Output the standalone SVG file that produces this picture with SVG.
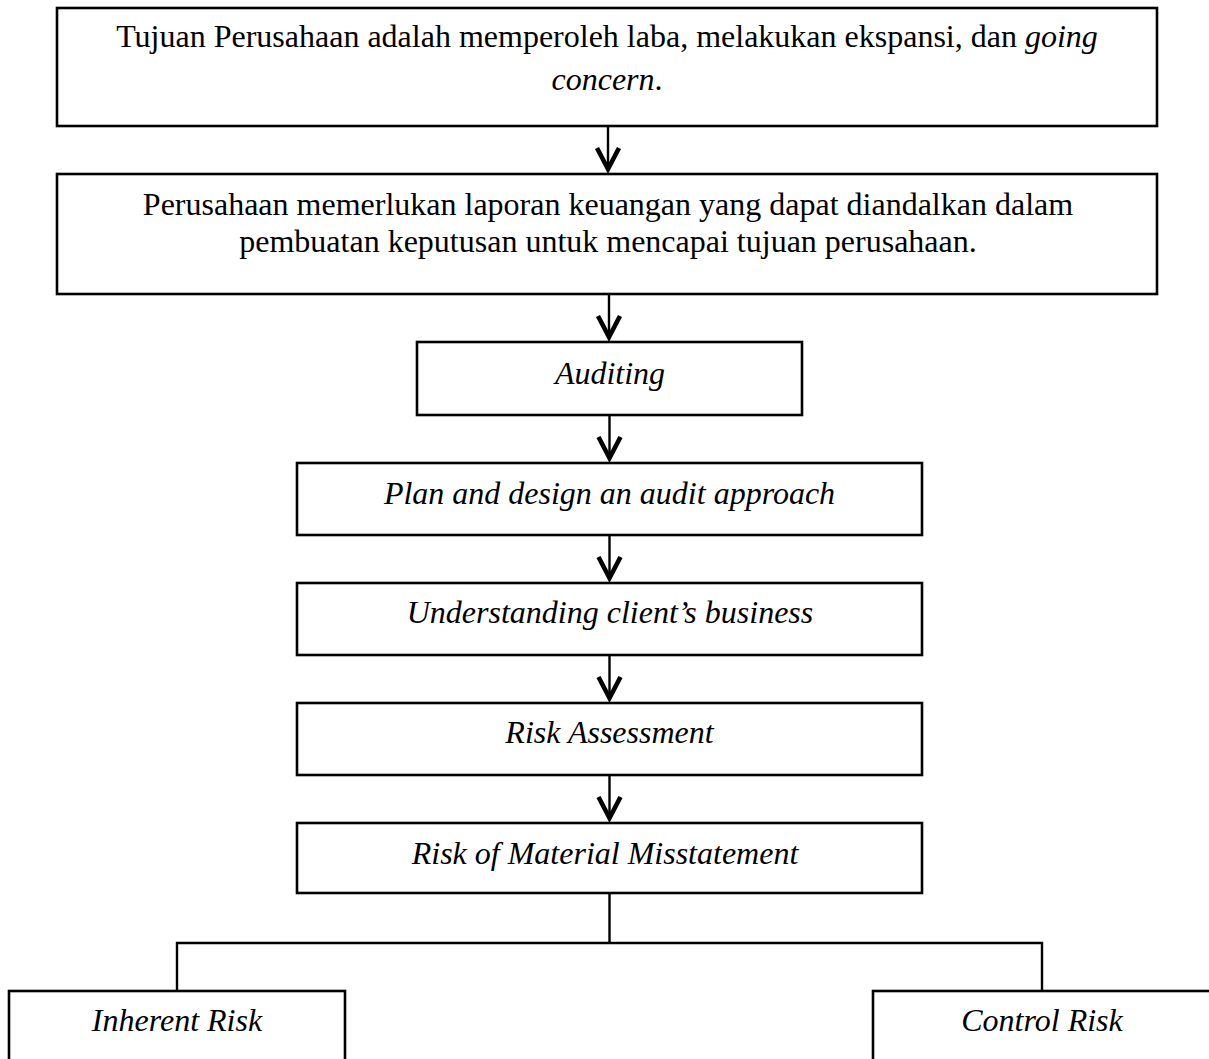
<svg xmlns="http://www.w3.org/2000/svg" width="1209" height="1059" viewBox="0 0 1209 1059">
<style>
.box{fill:#fff;stroke:#000;stroke-width:2.6}
.t{font-family:"Liberation Serif","Times New Roman",serif;font-size:32px;fill:#000;text-anchor:middle}
.i{font-style:italic}
.ln{fill:none;stroke:#000;stroke-width:2.4}
</style>
<defs>
<marker id="v" markerUnits="userSpaceOnUse" markerWidth="30" markerHeight="30" refX="26" refY="15" orient="auto" viewBox="0 0 30 30">
<path d="M5,4 L26,15 L5,26" fill="none" stroke="#000" stroke-width="4.6"/>
</marker>
</defs>
<rect width="1209" height="1059" fill="#fff"/>
<g id="connectors">
<line class="ln" x1="608" y1="126" x2="608" y2="169" marker-end="url(#v)"/>
<line class="ln" x1="609" y1="294" x2="609" y2="337" marker-end="url(#v)"/>
<line class="ln" x1="609.5" y1="415" x2="609.5" y2="458" marker-end="url(#v)"/>
<line class="ln" x1="609.5" y1="535" x2="609.5" y2="578" marker-end="url(#v)"/>
<line class="ln" x1="609.5" y1="655" x2="609.5" y2="698" marker-end="url(#v)"/>
<line class="ln" x1="609.5" y1="775" x2="609.5" y2="818" marker-end="url(#v)"/>
<polyline class="ln" points="609.5,893 609.5,943"/>
<polyline class="ln" points="177,991 177,943 1042,943 1042,991"/>
</g>
<g id="n1">
<rect class="box" x="57" y="8" width="1100" height="118"/>
<text class="t" x="607" y="47">Tujuan Perusahaan adalah memperoleh laba, melakukan ekspansi, dan <tspan class="i">going</tspan></text>
<text class="t" x="607" y="90"><tspan class="i">concern</tspan>.</text>
</g>
<g id="n2">
<rect class="box" x="57" y="174" width="1100" height="120"/>
<text class="t" x="608" y="215">Perusahaan memerlukan laporan keuangan yang dapat diandalkan dalam</text>
<text class="t" x="608" y="252">pembuatan keputusan untuk mencapai tujuan perusahaan.</text>
</g>
<g id="n3">
<rect class="box" x="417" y="342" width="385" height="73"/>
<text class="t i" x="610" y="384">Auditing</text>
</g>
<g id="n4">
<rect class="box" x="297" y="463" width="625" height="72"/>
<text class="t i" x="609.5" y="504">Plan and design an audit approach</text>
</g>
<g id="n5">
<rect class="box" x="297" y="583" width="625" height="72"/>
<text class="t i" x="610" y="623">Understanding client’s business</text>
</g>
<g id="n6">
<rect class="box" x="297" y="703" width="625" height="72"/>
<text class="t i" x="609.5" y="743">Risk Assessment</text>
</g>
<g id="n7">
<rect class="box" x="297" y="823" width="625" height="70"/>
<text class="t i" x="605" y="864">Risk of Material Misstatement</text>
</g>
<g id="n8">
<rect class="box" x="9" y="991" width="336" height="120"/>
<text class="t i" x="177" y="1031">Inherent Risk</text>
</g>
<g id="n9">
<rect class="box" x="873" y="991" width="360" height="120"/>
<text class="t i" x="1042" y="1031">Control Risk</text>
</g>
</svg>
